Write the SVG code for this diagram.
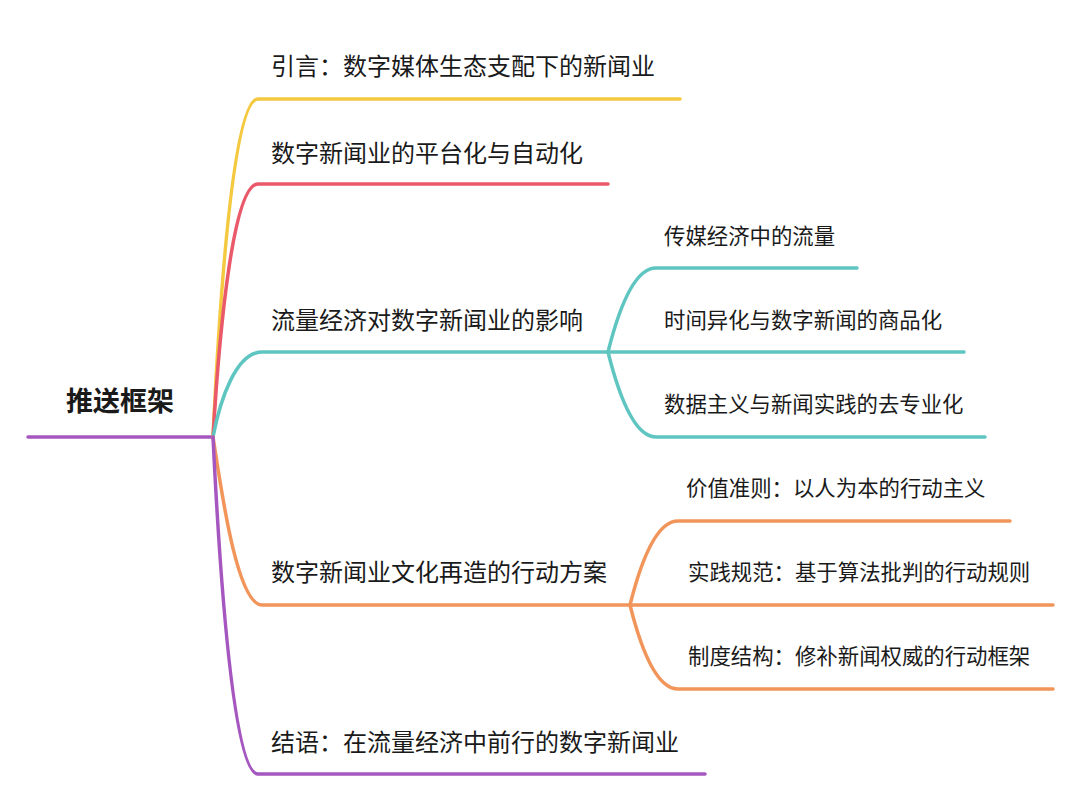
<svg xmlns="http://www.w3.org/2000/svg" width="1080" height="804" viewBox="0 0 1080 804">
<style>
.l{fill:none;stroke-width:3.5;stroke-linecap:round;stroke-linejoin:round}
.y{stroke:#F4C940}.r{stroke:#E9596A}.t{stroke:#5FC5C1}.o{stroke:#F1955B}.p{stroke:#A657BF}
text{font-family:"Microsoft YaHei","Noto Sans CJK SC","Noto Sans",sans-serif;fill:#1a1a1a}
.m{font-size:24px}.s{font-size:21.4px}.root{font-size:27px;font-weight:bold}
</style>
<rect width="1080" height="804" fill="#fff"/>
<g id="connectors">
<path class="l p" d="M28,437 L213,437"/>
<path class="l y" d="M213,437 C222,250 236,99 258,99 L680,99"/>
<path class="l r" d="M213,437 C220,320 234,184 258,184 L608,184"/>
<path class="l t" d="M213,437 C220,400 236,352 262,352 L608,352"/>
<path class="l o" d="M213,437 C220,480 236,605 262,605 L630,605"/>
<path class="l p" d="M213,437 C222,620 236,774 258,774 L705,774"/>
<path class="l t" d="M608,352 C616,320 632,268 656,268 L857,268"/>
<path class="l t" d="M608,352 L964,352"/>
<path class="l t" d="M608,352 C616,384 632,437 656,437 L985,437"/>
<path class="l o" d="M630,605 C638,573 654,521 678,521 L1010,521"/>
<path class="l o" d="M630,605 L1053,605"/>
<path class="l o" d="M630,605 C638,637 654,689 678,689 L1053,689"/>
</g>
<g id="root"><text class="root" x="66" y="411">推送框架</text></g>
<g id="n1"><text class="m" x="271" y="75">引言：数字媒体生态支配下的新闻业</text></g>
<g id="n2"><text class="m" x="271" y="162">数字新闻业的平台化与自动化</text></g>
<g id="n3"><text class="m" x="271" y="329">流量经济对数字新闻业的影响</text></g>
<g id="n3a"><text class="s" x="664" y="244">传媒经济中的流量</text></g>
<g id="n3b"><text class="s" x="664" y="328">时间异化与数字新闻的商品化</text></g>
<g id="n3c"><text class="s" x="664" y="412">数据主义与新闻实践的去专业化</text></g>
<g id="n4"><text class="m" x="271" y="581">数字新闻业文化再造的行动方案</text></g>
<g id="n4a"><text class="s" x="686" y="496">价值准则：以人为本的行动主义</text></g>
<g id="n4b"><text class="s" x="688" y="580">实践规范：基于算法批判的行动规则</text></g>
<g id="n4c"><text class="s" x="688" y="664">制度结构：修补新闻权威的行动框架</text></g>
<g id="n5"><text class="m" x="271" y="751">结语：在流量经济中前行的数字新闻业</text></g>
</svg>
